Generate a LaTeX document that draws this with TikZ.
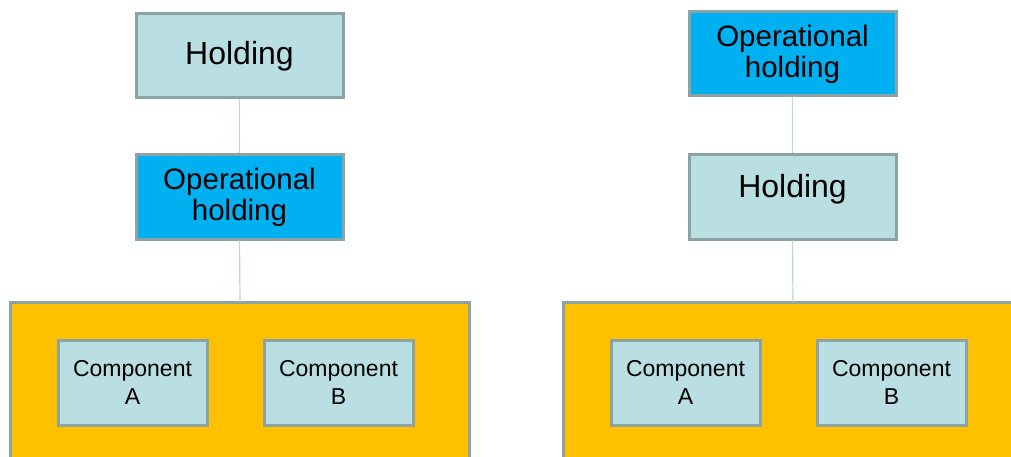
\documentclass[tikz,border=0pt]{standalone}
\usepackage{fontspec}
\setmainfont{Liberation Sans}
\definecolor{boxfill}{HTML}{B9DFE3}
\definecolor{boxline}{HTML}{8CA3A6}
\definecolor{opblue}{HTML}{00B0F0}
\definecolor{orangefill}{HTML}{FFC000}
\definecolor{conn}{HTML}{B3D8DD}
\begin{document}
\begin{tikzpicture}[x=1pt,y=-1pt,
  box/.style={draw=boxline, line width=3pt, fill=boxfill, minimum width=207pt, minimum height=84pt, inner sep=0pt, align=center, font=\fontsize{32}{34}\selectfont},
  opbox/.style={box, fill=opblue, font=\fontsize{29.5}{31}\selectfont},
  comp/.style={draw=boxline, line width=3pt, fill=boxfill, minimum width=149pt, minimum height=85pt, inner sep=0pt, align=center, font=\fontsize{23}{28}\selectfont},
  group/.style={draw=boxline, line width=3pt, fill=orangefill},
  link/.style={draw=conn, line width=1.2pt}]
\useasboundingbox (0,0) rectangle (1011,457);
% left
\node[box] (holdL) at (239.5,56) {Holding};
\node[opbox] (opL) at (239.5,197) {Operational\\holding};
\draw[group] (10,302) rectangle (469,470);
\coordinate (grpL) at (240,302);
\node[comp] (compAL) at (132.5,382.5) {Component\\A};
\node[comp] (compBL) at (338.5,382.5) {Component\\B};
\draw[link] (holdL.south) -- (opL.north);
\draw[link] (opL.south) -- (grpL);
% right
\node[opbox] (opR) at (792.5,54) {Operational\\holding};
\node[box, text depth=22pt] (holdR) at (792.5,197) {Holding};
\draw[group] (563,302) rectangle (1030,470);
\coordinate (grpR) at (793,302);
\node[comp] (compAR) at (685.5,382.5) {Component\\A};
\node[comp] (compBR) at (891.5,382.5) {Component\\B};
\draw[link] (opR.south) -- (holdR.north);
\draw[link] (holdR.south) -- (grpR);
\end{tikzpicture}
\end{document}
